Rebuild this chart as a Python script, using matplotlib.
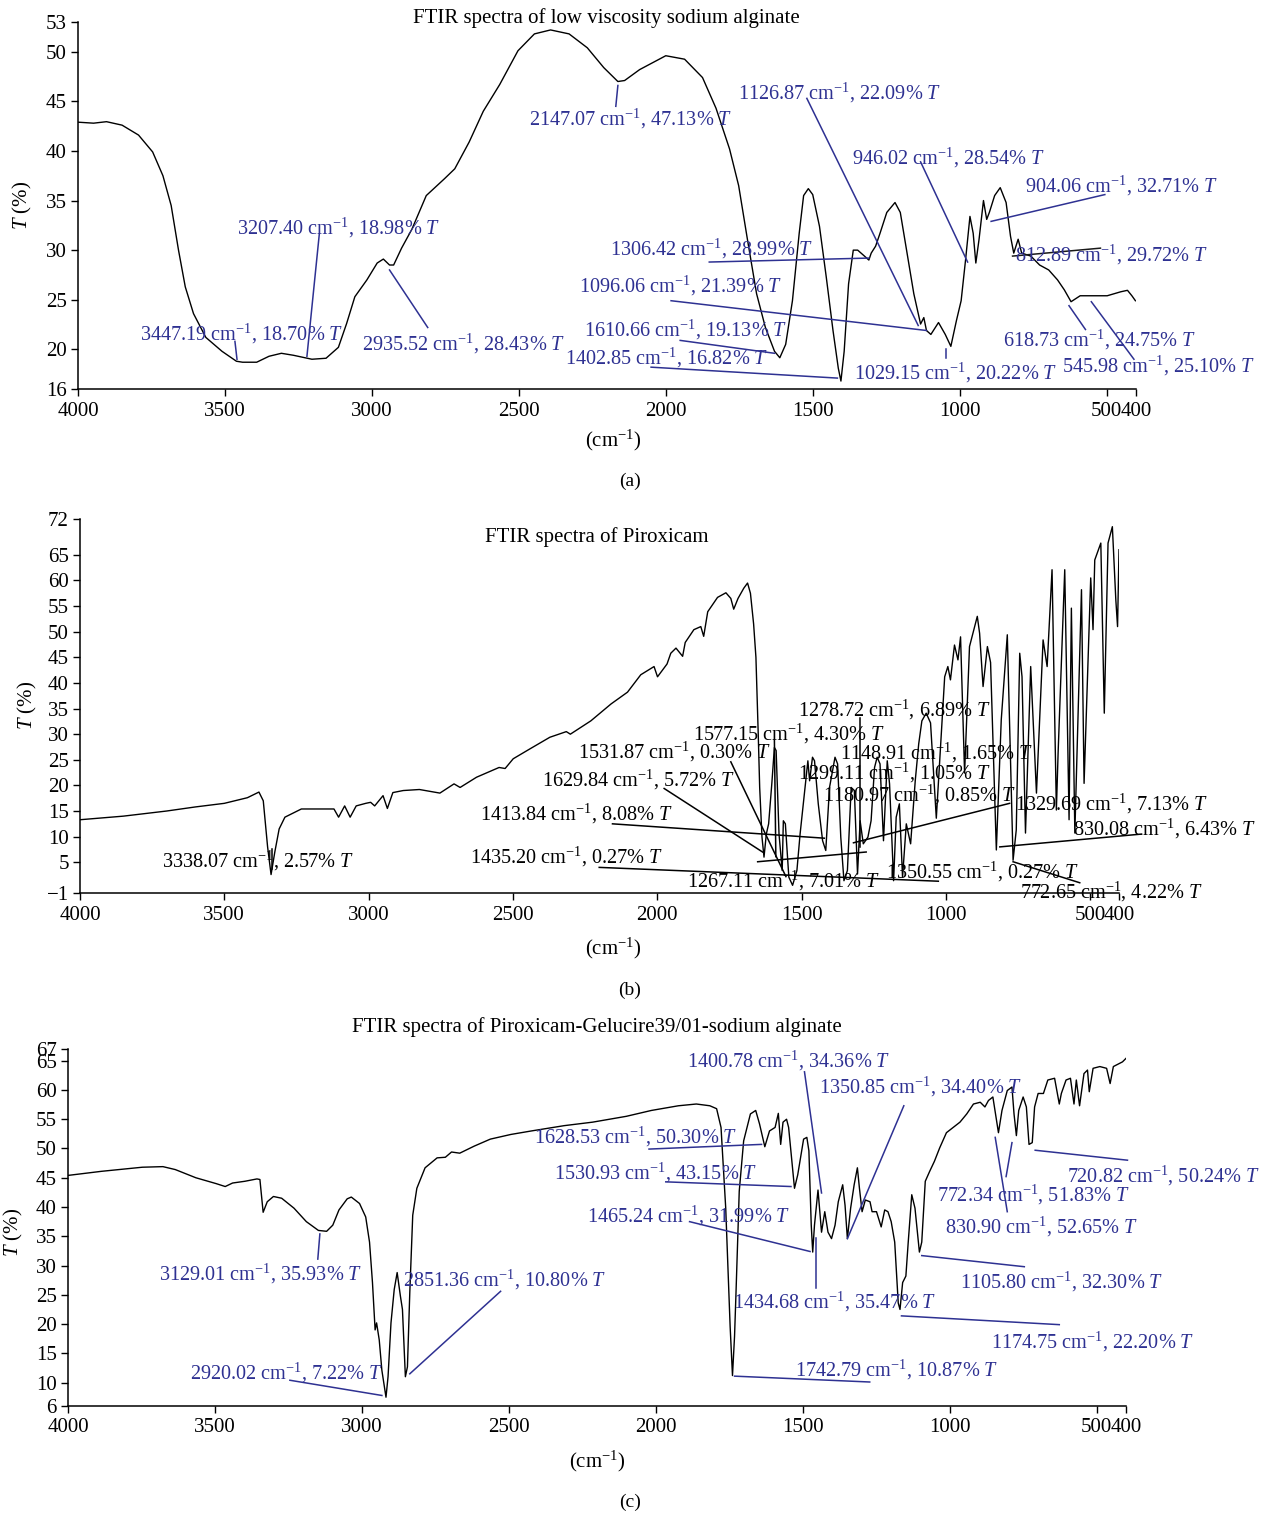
import matplotlib
matplotlib.use("Agg")
import matplotlib.pyplot as plt

plt.rcParams['font.family'] = ['Liberation Serif', 'DejaVu Serif']
plt.rcParams['mathtext.fontset'] = 'custom'
plt.rcParams['mathtext.rm'] = 'Liberation Serif'
plt.rcParams['mathtext.it'] = 'Liberation Serif:italic'
plt.rcParams['mathtext.bf'] = 'Liberation Serif:bold'

# ---------------- data: panel (a) low viscosity sodium alginate ----------------
wn_a = [4000, 3947, 3903, 3850, 3794, 3746, 3711, 3683, 3658, 3635,
        3607, 3565, 3510, 3461, 3440, 3392, 3350, 3308, 3267, 3204,
        3156, 3114, 3086, 3058, 3017, 2982, 2961, 2940, 2926, 2899,
        2864, 2815, 2753, 2718, 2669, 2621, 2565, 2503, 2447, 2392,
        2329, 2267, 2211, 2163, 2140, 2089, 2000, 1936, 1875, 1829,
        1783, 1752, 1722, 1691, 1661, 1630, 1612, 1592, 1569, 1546,
        1531, 1515, 1500, 1477, 1454, 1431, 1413, 1404, 1393, 1378,
        1362, 1347, 1324, 1309, 1301, 1286, 1271, 1248, 1220, 1202,
        1179, 1156, 1133, 1122, 1113, 1098, 1072, 1049, 1030, 1011,
        995, 980, 965, 954, 945, 934, 919, 908, 899, 881,
        862, 842, 827, 816, 801, 789, 758, 728, 697, 667,
        644, 621, 590, 544, 498, 452, 429, 414, 402]
t_a = [42.9, 42.8, 42.95, 42.6, 41.6, 39.9, 37.5, 34.5, 30.0, 26.3,
       23.6, 21.2, 19.8, 18.8, 18.7, 18.7, 19.3, 19.6, 19.4, 19.0,
       19.1, 20.2, 22.6, 25.3, 27.0, 28.7, 29.1, 28.5, 28.5, 30.2,
       32.1, 35.5, 37.2, 38.2, 40.9, 44.0, 46.7, 50.1, 51.8, 52.2,
       51.8, 50.4, 48.4, 47.0, 47.1, 48.2, 49.6, 49.25, 47.4, 44.3,
       40.2, 36.5, 31.05, 25.6, 22.2, 19.8, 19.15, 20.5, 24.9, 31.7,
       35.5, 36.2, 35.6, 32.4, 27.3, 21.9, 18.1, 16.8, 19.8, 26.6,
       30.0, 30.0, 29.4, 29.0, 29.7, 30.4, 31.7, 33.8, 34.8, 33.8,
       29.7, 25.6, 22.55, 23.2, 21.9, 21.5, 22.7, 21.5, 20.3, 22.9,
       24.9, 29.0, 33.4, 31.7, 28.7, 31.1, 35.0, 33.1, 33.8, 35.5,
       36.3, 34.8, 31.4, 29.7, 31.1, 29.7, 29.4, 28.5, 28.0, 27.0,
       26.0, 24.8, 25.4, 25.4, 25.4, 25.8, 25.95, 25.4, 24.9]

ann_a_wn = [3447.19, 3207.40, 2935.52, 2147.07, 1126.87, 946.02, 904.06, 812.89,
            1306.42, 1096.06, 1610.66, 1402.85, 1029.15, 618.73, 545.98]
ann_a_t = [18.70, 18.98, 28.43, 47.13, 22.09, 28.54, 32.71, 29.72,
           28.99, 21.39, 19.13, 16.82, 20.22, 24.75, 25.10]

# ---------------- data: panel (b) Piroxicam ----------------
wn_b = [4000, 3850, 3700, 3600, 3500, 3420, 3380, 3365, 3350, 3338,
        3325, 3310, 3290, 3233, 3120, 3104, 3083, 3064, 3043, 3010,
        2993, 2979, 2950, 2935, 2916, 2880, 2824, 2753, 2704, 2683,
        2626, 2548, 2527, 2499, 2442, 2372, 2315, 2301, 2230, 2160,
        2103, 2057, 2011, 1999, 1966, 1953, 1935, 1912, 1903, 1873,
        1849, 1839, 1825, 1791, 1762, 1745, 1735, 1720, 1700, 1687,
        1677, 1666, 1658, 1650, 1645, 1637, 1630, 1622, 1614, 1603,
        1594, 1588, 1578, 1567, 1563, 1556, 1544, 1531, 1516, 1505,
        1489, 1478, 1472, 1462, 1455, 1442, 1427, 1416, 1403, 1384,
        1375, 1364, 1353, 1341, 1328, 1317, 1306, 1297, 1286, 1270,
        1259, 1247, 1238, 1228, 1216, 1203, 1195, 1181, 1172, 1161,
        1150, 1137, 1122, 1106, 1094, 1083, 1068, 1053, 1033, 1004,
        993, 984, 970, 958, 949, 935, 918, 891, 883, 871,
        856, 845, 825, 808, 787, 767, 756, 744, 736, 724,
        706, 686, 663, 649, 632, 617, 611, 588, 573, 565,
        553, 530, 521, 498, 490, 484, 463, 451, 438, 423,
        411, 405, 400]
t_b = [13.3, 14.0, 15.0, 15.8, 16.5, 17.6, 18.7, 17.0, 8.0, 2.6,
       7.0, 11.5, 13.8, 15.4, 15.4, 13.8, 16.0, 13.8, 16.0, 16.5,
       16.7, 16.0, 18.0, 15.5, 18.6, 19.0, 19.2, 18.5, 20.3, 19.6,
       21.6, 23.5, 23.3, 25.2, 27.1, 29.4, 30.5, 30.0, 32.6, 35.9,
       38.2, 41.6, 43.2, 41.2, 43.7, 45.8, 46.8, 45.2, 47.9, 50.4,
       51.0, 49.1, 53.9, 56.7, 57.6, 56.5, 54.4, 56.5, 58.5, 59.5,
       57.5, 51.5, 45.0, 30.0, 19.6, 9.9, 6.0, 10.5, 12.5, 20.3,
       27.4, 26.8, 10.5, 3.4, 13.1, 12.5, 2.1, 0.5, 3.4, 10.5,
       19.0, 24.8, 20.9, 25.5, 24.8, 16.4, 9.2, 7.3, 19.6, 25.5,
       24.2, 9.9, 1.4, 3.4, 19.6, 19.0, 2.7, 13.1, 8.6, 9.9,
       13.1, 23.5, 25.5, 24.2, 9.2, 24.8, 20.3, 1.4, 13.8, 16.4,
       2.1, 12.5, 8.6, 20.9, 28.1, 32.6, 34.1, 32.2, 13.6, 41.2,
       43.2, 40.6, 47.4, 44.5, 49.0, 22.4, 47.1, 53.0, 49.7, 39.3,
       47.1, 44.0, 7.4, 32.8, 49.4, 5.4, 11.3, 45.8, 41.2, 10.7,
       43.2, 18.5, 48.4, 43.2, 62.1, 15.2, 26.3, 62.1, 13.3, 54.6,
       10.7, 58.2, 20.4, 60.5, 50.4, 64.0, 67.3, 34.1, 67.3, 70.5,
       56.2, 51.0, 66.0]

ann_b_wn = [3338.07, 1278.72, 1577.15, 1531.87, 1629.84, 1413.84, 1435.20, 1267.11,
            1299.11, 1148.91, 1180.97, 1329.69, 830.08, 1350.55, 772.65]
ann_b_t = [2.57, 6.89, 4.30, 0.30, 5.72, 8.08, 0.27, 7.01,
           1.05, 1.65, 0.85, 7.13, 6.43, 0.27, 4.22]

# ---------------- data: panel (c) Piroxicam-Gelucire39/01-sodium alginate ----------------
wn_c = [4000, 3886, 3747, 3677, 3635, 3565, 3496, 3465, 3440, 3398,
        3357, 3347, 3336, 3322, 3301, 3273, 3231, 3189, 3148, 3120,
        3099, 3078, 3050, 3036, 3008, 2987, 2974, 2964, 2955, 2950,
        2941, 2932, 2918, 2911, 2901, 2890, 2880, 2869, 2862, 2852,
        2845, 2837, 2827, 2813, 2785, 2744, 2716, 2695, 2667, 2618,
        2563, 2493, 2423, 2312, 2215, 2100, 2015, 1923, 1862, 1816,
        1793, 1778, 1762, 1747, 1739, 1732, 1727, 1716, 1701, 1678,
        1660, 1647, 1629, 1613, 1594, 1583, 1575, 1567, 1555, 1548,
        1537, 1528, 1517, 1497, 1486, 1479, 1471, 1466, 1460, 1448,
        1436, 1425, 1414, 1402, 1390, 1379, 1364, 1356, 1348, 1337,
        1325, 1314, 1307, 1298, 1287, 1271, 1264, 1249, 1233, 1221,
        1210, 1199, 1187, 1175, 1169, 1160, 1149, 1141, 1129, 1118,
        1103, 1095, 1083, 1068, 1052, 1034, 1011, 988, 965, 942,
        919, 896, 880, 868, 853, 842, 834, 822, 804, 788,
        781, 773, 765, 750, 739, 730, 719, 711, 699, 681,
        666, 643, 627, 620, 604, 589, 577, 569, 558, 543,
        531, 525, 512, 489, 466, 454, 443, 420, 412, 400]
t_c = [45.4, 46.1, 46.8, 46.9, 46.4, 45.0, 44.0, 43.5, 44.1, 44.4,
       44.8, 44.7, 39.1, 40.9, 41.8, 41.5, 39.8, 37.5, 36.0, 35.85,
       36.9, 39.5, 41.4, 41.7, 40.6, 38.3, 34.0, 27.1, 19.0, 20.2,
       17.3, 12.1, 7.5, 11.0, 20.2, 25.9, 28.8, 24.8, 22.5, 11.0,
       12.7, 25.4, 38.6, 43.2, 46.7, 48.4, 48.5, 49.4, 49.2, 50.4,
       51.6, 52.4, 53.0, 53.9, 54.5, 55.5, 56.5, 57.3, 57.6, 57.3,
       56.8, 53.6, 39.8, 19.6, 11.2, 17.9, 25.4, 42.7, 51.3, 55.9,
       56.5, 54.2, 50.3, 53.0, 53.6, 56.0, 50.7, 54.5, 55.0, 53.6,
       47.8, 43.2, 45.5, 51.6, 51.9, 49.6, 36.9, 32.3, 36.9, 42.9,
       35.7, 39.2, 35.7, 34.6, 36.9, 40.9, 43.8, 40.3, 34.6, 39.8,
       43.8, 46.7, 43.2, 39.2, 41.2, 40.9, 39.2, 39.2, 36.6, 39.5,
       39.2, 37.5, 34.0, 23.6, 22.5, 27.1, 28.2, 34.0, 42.1, 39.8,
       32.3, 34.0, 44.4, 46.1, 47.8, 50.1, 52.7, 53.6, 54.5, 55.9,
       57.6, 57.9, 57.1, 58.2, 58.8, 55.3, 52.7, 56.5, 59.9, 60.5,
       55.9, 52.2, 56.5, 58.8, 57.1, 50.7, 51.0, 57.1, 59.4, 59.4,
       61.7, 62.0, 57.6, 59.4, 61.7, 62.0, 57.6, 61.7, 57.3, 62.8,
       63.4, 59.7, 63.7, 64.0, 63.7, 61.1, 64.0, 64.6, 64.8, 65.4]

ann_c_wn = [3129.01, 2851.36, 2920.02, 1400.78, 1350.85, 1628.53, 1530.93, 1465.24,
            1434.68, 1742.79, 1174.75, 1105.80, 772.34, 830.90, 720.82]
ann_c_t = [35.93, 10.80, 7.22, 34.36, 34.40, 50.30, 43.15, 31.99,
           35.47, 10.87, 22.20, 32.30, 51.83, 52.65, 50.24]

x_ticks = [4000, 3500, 3000, 2500, 2000, 1500, 1000, 500, 400]
y_ticks_a = [16, 20, 25, 30, 35, 40, 45, 50, 53]
y_ticks_b = [-1, 5, 10, 15, 20, 25, 30, 35, 40, 45, 50, 55, 60, 65, 72]
y_ticks_c = [6, 10, 15, 20, 25, 30, 35, 40, 45, 50, 55, 60, 65, 67]

# ---------------- layout (label text anchors and leader lines) ----------------
txt_pos_a = [(3789, 21.85), (3459, 32.5), (3034, 20.8), (2466, 43.5), (1755, 46.1),
             (1367, 39.6), (779, 36.8), (813, 29.8), (2191, 30.4), (2296, 26.7),
             (2279, 22.25), (2344, 19.4), (1361, 17.9), (854, 21.2), (653, 18.6)]
lead_a = [((3466, 20.8), (3459, 19.0)), ((3179, 31.6), (3221, 19.3)),
          ((2940, 28.0), (2810, 22.2)), ((2163, 46.6), (2170, 44.5)),
          ((1520, 45.3), (1141, 22.4)), ((1133, 38.9), (973, 28.8)),
          ((506, 35.6), (893, 32.9)), ((820, 29.4), (521, 30.2)),
          ((1852, 28.8), (1309, 29.2)), ((1982, 24.9), (1113, 21.9)),
          ((1951, 20.9), (1630, 19.6)), ((2050, 18.2), (1416, 17.1)),
          ((1046, 20.0), (1046, 19.15)), ((628, 24.4), (572, 22.0)),
          ((552, 24.8), (407, 19.0))]
lead_a_col = ['b'] * 7 + ['k'] + ['b'] * 7

txt_pos_b = [(3715, 5.8), (1512, 35.3), (1876, 30.6), (2275, 27.1), (2400, 21.7),
             (2615, 15.0), (2647, 6.6), (1897, 1.9), (1512, 23.0), (1366, 26.9),
             (1425, 18.7), (759, 17.0), (561, 12.1), (1207, 3.7), (742, -0.2)]
lead_b = [((3335, 7.6), (3335, 3.7)), ((1299, 33.1), (1299, 8.0)),
          ((1594, 28.9), (1589, 6.1)), ((1745, 24.6), (1554, 2.2)),
          ((1976, 19.4), (1635, 7.0)), ((2155, 12.5), (1421, 9.7)),
          ((2201, 4.0), (1026, 1.3)), ((1652, 5.1), (1276, 7.0)),
          None, None, None,
          ((1320, 8.8), (779, 16.5)), ((813, 8.0), (322, 10.5)),
          None, ((767, 5.1), (536, 1.0))]

txt_pos_c = [(3690, 29.1), (2861, 28.1), (3585, 12.2), (1895, 65.5), (1446, 61.0),
             (2415, 52.4), (2347, 46.3), (2235, 38.9), (1738, 24.3), (1527, 12.7),
             (861, 17.4), (966, 27.6), (1044, 42.6), (1017, 37.0), (600, 45.8)]
lead_c = [((3143, 35.4), (3150, 31.1)), ((2528, 25.6), (2837, 11.5)),
          ((3245, 10.4), (2932, 7.8)), ((1494, 63.1), (1436, 42.4)),
          ((1156, 57.3), (1348, 34.6)), ((2023, 49.9), (1640, 50.7)),
          ((1966, 44.3), (1540, 43.5)), ((1885, 37.5), (1475, 32.4)),
          ((1456, 34.7), (1456, 26.2)), ((1732, 11.1), (1272, 10.1)),
          ((1164, 21.4), (627, 19.9)), ((1095, 31.7), (746, 29.8)),
          ((788, 51.0), (808, 45.2)), ((845, 51.9), (804, 39.2)),
          ((709, 49.7), (395, 48.0))]

BLUE = '#2E3192'
FS = 15
FS_ANN = 14.6

W, H = 1266, 1514
fig = plt.figure(figsize=(W / 100, H / 100), dpi=100)


def fx(px):
    return px / W


def fy(py):
    return 1 - py / H


def make_axes(l, r, top, bot, yl, yticks):
    ax = fig.add_axes([fx(l), fy(bot), fx(r) - fx(l), fy(top) - fy(bot)])
    ax.set_xlim(4000, 400)
    ax.set_ylim(*yl)
    for s in ('top', 'right'):
        ax.spines[s].set_visible(False)
    for s in ('left', 'bottom'):
        ax.spines[s].set_linewidth(1.1)
    ax.set_xticks(x_ticks)
    ax.set_xticklabels([str(v) for v in x_ticks])
    ax.set_yticks(yticks)
    ax.set_yticklabels([('\u2212%d' % -v) if v < 0 else str(v) for v in yticks])
    ax.tick_params(axis='both', direction='out', length=5, width=1.0, labelsize=FS)
    ax.tick_params(axis='x', pad=4)
    ax.tick_params(axis='y', pad=3)
    return ax


def label(wn, t):
    return '%.2f cm$^{-1}$, %.2f%% $T$' % (wn, t)


def annotate(ax, wns, ts, pos, leads, color, lcols=None):
    for i, (w, t) in enumerate(zip(wns, ts)):
        x, y = pos[i]
        ax.text(x, y, label(w, t), fontsize=FS_ANN, color=color, ha='left',
                va='center_baseline', clip_on=False)
        if leads[i] is not None:
            (x0, y0), (x1, y1) = leads[i]
            c = color
            if lcols is not None and lcols[i] == 'k':
                c = '#1a1a1a'
            ax.plot([x0, x1], [y0, y1], color=c, lw=1.1, clip_on=False)


# ---- panel a
axa = make_axes(78, 1136, 22, 389, (16, 53), y_ticks_a)
axa.plot(wn_a, t_a, color='black', lw=1.0)
annotate(axa, ann_a_wn, ann_a_t, txt_pos_a, lead_a, BLUE, lead_a_col)
fig.text(fx(606), fy(18), 'FTIR spectra of low viscosity sodium alginate',
         fontsize=FS, ha='center', va='center')
fig.text(fx(22), fy(205), '$T$ (%)', rotation=90, fontsize=FS, ha='center', va='center')
fig.text(fx(613), fy(440), '(cm$^{-1}$)', fontsize=FS, ha='center', va='center')
fig.text(fx(630), fy(481), '(a)', fontsize=FS - 1, ha='center', va='center')

# ---- panel b
axb = make_axes(80, 1119, 519, 893, (-1, 72), y_ticks_b)
axb.plot(wn_b, t_b, color='black', lw=1.0)
annotate(axb, ann_b_wn, ann_b_t, txt_pos_b, lead_b, 'black')
fig.text(fx(597), fy(537), 'FTIR spectra of Piroxicam',
         fontsize=FS, ha='center', va='center')
fig.text(fx(27), fy(705), '$T$ (%)', rotation=90, fontsize=FS, ha='center', va='center')
fig.text(fx(613), fy(948), '(cm$^{-1}$)', fontsize=FS, ha='center', va='center')
fig.text(fx(630), fy(990), '(b)', fontsize=FS - 1, ha='center', va='center')

# ---- panel c
axc = make_axes(68, 1126, 1049, 1406, (6, 67), y_ticks_c)
axc.plot(wn_c, t_c, color='black', lw=1.0)
annotate(axc, ann_c_wn, ann_c_t, txt_pos_c, lead_c, BLUE)
fig.text(fx(597), fy(1027), 'FTIR spectra of Piroxicam-Gelucire39/01-sodium alginate',
         fontsize=FS, ha='center', va='center')
fig.text(fx(13), fy(1232), '$T$ (%)', rotation=90, fontsize=FS, ha='center', va='center')
fig.text(fx(597), fy(1461), '(cm$^{-1}$)', fontsize=FS, ha='center', va='center')
fig.text(fx(630), fy(1502), '(c)', fontsize=FS - 1, ha='center', va='center')

fig.savefig('out.png', dpi=100)
